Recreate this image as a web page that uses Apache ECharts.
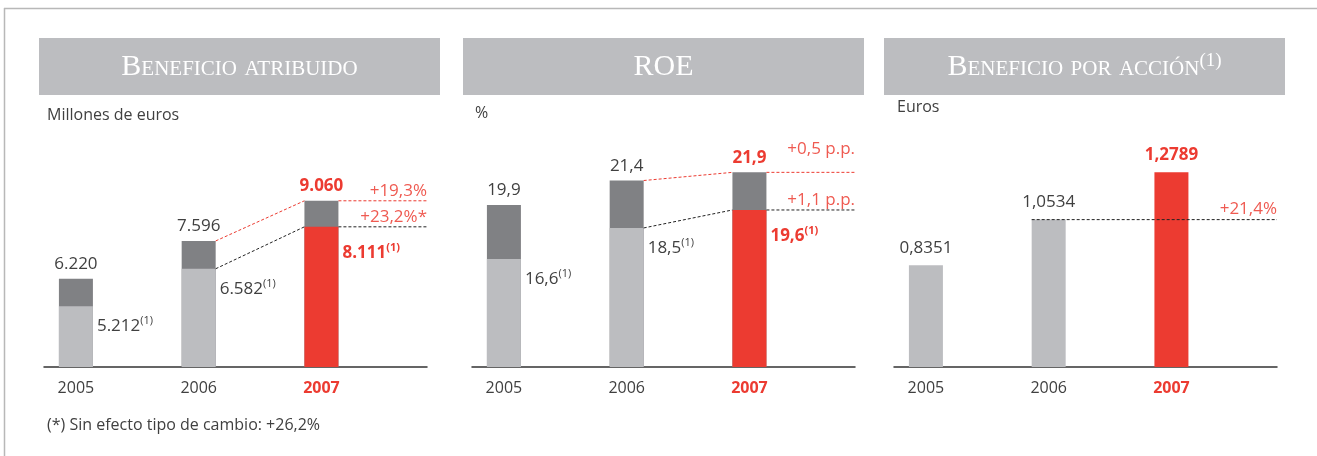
<!DOCTYPE html>
<html>
<head>
<meta charset="utf-8">
<script src="https://cdn.jsdelivr.net/npm/echarts@6/dist/echarts.min.js"></script>
<style>
  html, body { margin: 0; padding: 0; background: #fff; }
  #main { width: 1317px; height: 456px; }
</style>
</head>
<body>
<div id="main"></div>
<script>
// Datos
const years = ['2005', '2006', '2007'];
const beneficioTotal = [6220, 7596, 9060];
const beneficioAjustado = [5212, 6582, 8111];
const roeTotal = [19.9, 21.4, 21.9];
const roeAjustado = [16.6, 18.5, 19.6];
const bpa = [0.8351, 1.0534, 1.2789];
const beneficioVar = ['+19,3%', '+23,2%*'];
const roeVar = ['+0,5 p.p.', '+1,1 p.p.'];
const bpaVar = ['+21,4%'];

const DESTACADO = 2; // 2007
const ANCHO_BARRA = 34;
const GRIS_CLARO = '#bcbdc0';
const GRIS_OSCURO = '#808184';
const ROJO = '#ec3b31';
const ROJO_SUAVE = '#ef5a51';
const TEXTO = '#404040';
const SANS = '"Open Sans", "Noto Sans", sans-serif';
const SERIF = '"Liberation Serif", "DejaVu Serif", serif';

const miles = v => String(v).replace(/\B(?=(\d{3})+(?!\d))/g, '.');
const decimal = (v, d) => v.toFixed(d).replace('.', ',');

const chart = echarts.init(document.getElementById('main'));

// estilos de etiquetas
const rich = {
  n: { fontFamily: SANS, fontSize: 17, color: TEXTO, lineHeight: 21 },
  s: { fontFamily: SANS, fontSize: 11, color: TEXTO, lineHeight: 13, verticalAlign: 'top' },
  r: { fontFamily: SANS, fontSize: 17, color: ROJO, fontWeight: 'bold', lineHeight: 21 },
  rs: { fontFamily: SANS, fontSize: 11, color: ROJO, fontWeight: 'bold', lineHeight: 13, verticalAlign: 'top' },
  a: { fontFamily: SANS, fontSize: 16, color: TEXTO, lineHeight: 20 },
  ar: { fontFamily: SANS, fontSize: 16, color: ROJO, fontWeight: 'bold', lineHeight: 20 }
};
const etiqueta = (txt, i, nota) => i === DESTACADO
  ? '{r|' + txt + '}' + (nota ? '{rs|(1)}' : '')
  : '{n|' + txt + '}' + (nota ? '{s|(1)}' : '');

function ejeX(grid) {
  return {
    type: 'value', gridIndex: grid, min: 0.74, max: 3.86,
    splitLine: { show: false }, axisTick: { show: false },
    axisLine: { show: true, onZero: false, lineStyle: { color: '#333', width: 1.5 } },
    axisLabel: {
      customValues: [1, 2, 3], margin: 11,
      formatter: v => {
        const i = Math.round(v) - 1;
        return i === DESTACADO ? '{ar|' + years[i] + '}' : '{a|' + years[i] + '}';
      },
      rich
    }
  };
}

function ejeY(grid, min, max) {
  return { type: 'value', gridIndex: grid, min, max, show: false, splitLine: { show: false } };
}

function barrasTotal(idx, valores, fmt) {
  return {
    type: 'bar', xAxisIndex: idx, yAxisIndex: idx, barWidth: ANCHO_BARRA, barGap: '-100%',
    data: valores.map((v, i) => [i + 1, v]),
    itemStyle: { color: GRIS_OSCURO },
    label: {
      show: true, position: 'top', distance: 4, rich,
      formatter: p => etiqueta(fmt(valores[p.dataIndex]), p.dataIndex, false)
    }
  };
}

function barrasAjustado(idx, valores, fmt) {
  return {
    type: 'bar', xAxisIndex: idx, yAxisIndex: idx, barWidth: ANCHO_BARRA, barGap: '-100%',
    data: valores.map((v, i) => ({
      value: [i + 1, v],
      itemStyle: { color: i === DESTACADO ? ROJO : GRIS_CLARO },
      label: { position: [ANCHO_BARRA + 4, i === DESTACADO ? 26 : 20] }
    })),
    label: {
      show: true, align: 'left', verticalAlign: 'middle', rich,
      formatter: p => etiqueta(fmt(valores[p.dataIndex]), p.dataIndex, true)
    }
  };
}

// líneas discontinuas de variación
function conectores(idx, items, modo) {
  return {
    type: 'custom', xAxisIndex: idx, yAxisIndex: idx, z: 5, silent: true,
    data: items.map(it => [it.desde[0], it.desde[1], it.hasta[0], it.hasta[1]]),
    renderItem(params, api) {
      const it = items[params.dataIndex];
      const a = api.coord([api.value(0), api.value(1)]);
      const b = api.coord([api.value(2), api.value(3)]);
      const hw = ANCHO_BARRA / 2;
      const derecha = params.coordSys.x + params.coordSys.width;
      const estilo = { stroke: it.color, lineWidth: 1, lineDash: [3, 2], fill: null };
      const children = [];
      if (modo === 'escalon') {
        children.push({ type: 'line', shape: { x1: a[0] + hw, y1: a[1], x2: b[0] - hw, y2: b[1] }, style: estilo });
        children.push({ type: 'line', shape: { x1: b[0] + hw, y1: b[1], x2: derecha, y2: b[1] }, style: estilo });
      } else {
        children.push({ type: 'line', shape: { x1: a[0] - hw, y1: a[1], x2: derecha, y2: a[1] }, style: estilo });
      }
      children.push({
        type: 'text', x: derecha, y: b[1] - it.dy,
        style: { text: it.texto, align: 'right', verticalAlign: 'bottom', fill: ROJO_SUAVE, fontSize: 17, fontFamily: SANS }
      });
      return { type: 'group', children };
    }
  };
}

const cabeceras = [
  { x: 39, texto: 'Beneficio atribuido' },
  { x: 463, texto: 'ROE' },
  { x: 884, texto: 'Beneficio por acción', nota: '(1)' }
];

const nota = { fontSize: 16, fontFamily: SANS, fill: TEXTO, verticalAlign: 'middle' };
const graficos = [
  // marco
  { type: 'line', shape: { x1: 4, y1: 8.5, x2: 1317, y2: 8.5 }, style: { stroke: '#b8b8b8', lineWidth: 1.5 } },
  { type: 'line', shape: { x1: 4.5, y1: 8, x2: 4.5, y2: 456 }, style: { stroke: '#b8b8b8', lineWidth: 1.5 } },
  // unidades y nota
  { type: 'text', x: 47, y: 115, style: Object.assign({ text: 'Millones de euros' }, nota) },
  { type: 'text', x: 475, y: 113, style: Object.assign({ text: '%' }, nota) },
  { type: 'text', x: 897, y: 107, style: Object.assign({ text: 'Euros' }, nota) },
  { type: 'text', x: 47, y: 425, style: Object.assign({ text: '(*) Sin efecto tipo de cambio: +26,2%' }, nota) }
];
cabeceras.forEach(c => {
  graficos.push({ type: 'rect', shape: { x: c.x, y: 38, width: 401, height: 57 }, style: { fill: GRIS_CLARO } });
  const font = 'small-caps 30px ' + SERIF;
  graficos.push({
    type: 'text', x: c.x + 200.5, y: 67,
    style: c.nota ? {
      text: '{t|' + c.texto + '}{sup|' + c.nota + '}', align: 'center', verticalAlign: 'middle',
      rich: {
        t: { font, fill: '#fff' },
        sup: { fontSize: 19, fontFamily: SERIF, fill: '#fff', verticalAlign: 'top', lineHeight: 19 }
      }
    } : { text: c.texto, font, fill: '#fff', align: 'center', verticalAlign: 'middle' }
  });
});

chart.setOption({
  animation: false,
  backgroundColor: '#fff',
  grid: [
    { left: 44, width: 383, top: 175, bottom: 89 },
    { left: 472, width: 383, top: 138, bottom: 89 },
    { left: 894, width: 383, top: 147, bottom: 89 }
  ],
  xAxis: [ejeX(0), ejeX(1), ejeX(2)],
  yAxis: [ejeY(0, 3000, 10000), ejeY(1, 10, 24), ejeY(2, 0.35, 1.4)],
  graphic: graficos,
  series: [
    barrasTotal(0, beneficioTotal, miles),
    barrasAjustado(0, beneficioAjustado, miles),
    conectores(0, [
      { desde: [2, beneficioTotal[1]], hasta: [3, beneficioTotal[2]], color: ROJO, texto: beneficioVar[0], dy: 1 },
      { desde: [2, beneficioAjustado[1]], hasta: [3, beneficioAjustado[2]], color: '#222', texto: beneficioVar[1], dy: 1 }
    ], 'escalon'),
    barrasTotal(1, roeTotal, v => decimal(v, 1)),
    barrasAjustado(1, roeAjustado, v => decimal(v, 1)),
    conectores(1, [
      { desde: [2, roeTotal[1]], hasta: [3, roeTotal[2]], color: ROJO, texto: roeVar[0], dy: 15 },
      { desde: [2, roeAjustado[1]], hasta: [3, roeAjustado[2]], color: '#222', texto: roeVar[1], dy: 1 }
    ], 'escalon'),
    {
      type: 'bar', xAxisIndex: 2, yAxisIndex: 2, barWidth: ANCHO_BARRA,
      data: bpa.map((v, i) => ({ value: [i + 1, v], itemStyle: { color: i === DESTACADO ? ROJO : GRIS_CLARO } })),
      label: {
        show: true, position: 'top', distance: 7, rich,
        formatter: p => etiqueta(decimal(bpa[p.dataIndex], 4), p.dataIndex, false)
      }
    },
    conectores(2, [
      { desde: [2, bpa[1]], hasta: [2, bpa[1]], color: '#222', texto: bpaVar[0], dy: 2 }
    ], 'plano')
  ]
});
</script>
</body>
</html>
